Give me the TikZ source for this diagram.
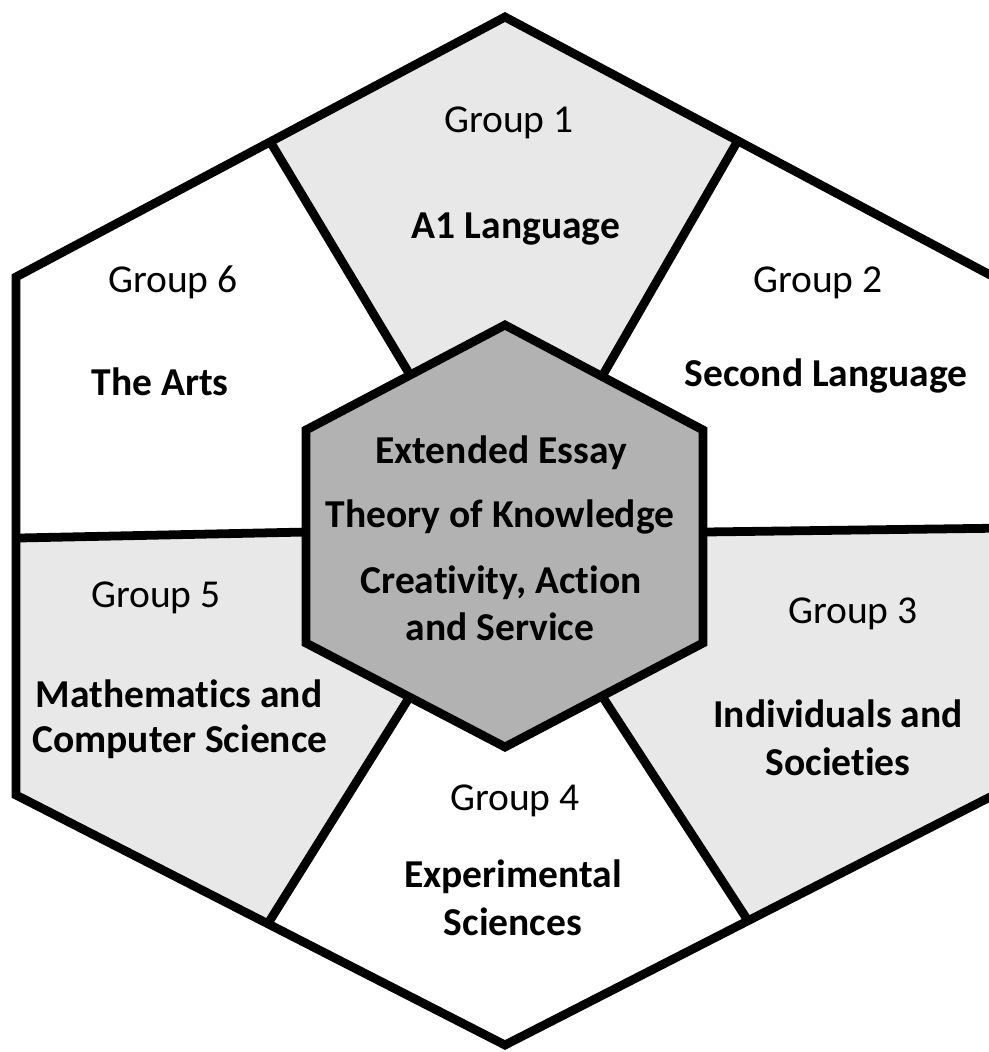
\documentclass[tikz,border=0pt]{standalone}
\usepackage{fontspec}
\setmainfont{Carlito}[Ligatures=NoCommon]
\usetikzlibrary{calc}
\definecolor{lightfill}{RGB}{232,232,232}
\definecolor{darkfill}{RGB}{178,178,178}
\begin{document}
\begin{tikzpicture}[x=0.02cm,y=-0.02cm,
  edge/.style={line width=5pt, line join=miter, line cap=butt},
  grp/.style={font=\fontsize{22.5}{27}\selectfont, anchor=base, inner sep=0pt},
  subj/.style={font=\fontsize{22.5}{27}\selectfont\bfseries, anchor=base, inner sep=0pt}]
\useasboundingbox (0,0) rectangle (989,1052);
\clip (0,0) rectangle (989,1052);
% outer hexagon
\coordinate (O1) at (505,17);
\coordinate (O2) at (994,277);
\coordinate (O3) at (994,795);
\coordinate (O4) at (505,1045);
\coordinate (O5) at (16,795);
\coordinate (O6) at (16,277);
% inner hexagon
\coordinate (I1) at (505,325);
\coordinate (I2) at (703,430);
\coordinate (I3) at (703,643);
\coordinate (I4) at (505,747);
\coordinate (I5) at (306,643);
\coordinate (I6) at (306,430);
% division points
\coordinate (A) at ($(O6)!0.52!(O1)$);
\coordinate (B) at ($(O1)!0.476!(O2)$);
\coordinate (P) at ($(I1)!0.477!(I6)$);
\coordinate (Q) at ($(I1)!0.49!(I2)$);
\coordinate (C) at ($(O6)!0.504!(O5)$);
\coordinate (D) at ($(I6)!0.479!(I5)$);
\coordinate (E) at ($(I2)!0.479!(I3)$);
\coordinate (F) at ($(O2)!0.485!(O3)$);
\coordinate (G) at ($(I5)!0.52!(I4)$);
\coordinate (H) at ($(O5)!0.515!(O4)$);
\coordinate (J) at ($(I3)!0.51!(I4)$);
\coordinate (K) at ($(O3)!0.503!(O4)$);
% light regions
\fill[lightfill] (A) -- (O1) -- (B) -- (Q) -- (I1) -- (P) -- cycle;
\fill[lightfill] (F) -- (O3) -- (K) -- (J) -- (I3) -- (E) -- cycle;
\fill[lightfill] (H) -- (O5) -- (C) -- (D) -- (I5) -- (G) -- cycle;
% outer outline
\draw[edge] (O1) -- (O2) -- (O3) -- (O4) -- (O5) -- (O6) -- cycle;
% dividers
\draw[edge] (A) -- (P);
\draw[edge] (B) -- (Q);
\draw[edge] (C) -- (D);
\draw[edge] (E) -- (F);
\draw[edge] (G) -- (H);
\draw[edge] (J) -- (K);
% inner hexagon
\draw[edge, fill=darkfill] (I1) -- (I2) -- (I3) -- (I4) -- (I5) -- (I6) -- cycle;
% texts
\node[grp] (g1) at (509,132) {Group 1};
\node[subj] (s1) at (516,238) {A1 Language};
\node[grp] (g6) at (173,292) {Group 6};
\node[grp] (g2) at (818,292) {Group 2};
\node[subj] (s6) at (160,395) {The Arts};
\node[subj] (s2) at (826,386) {Second Language};
\node[subj] (c1) at (501,463) {Extended Essay};
\node[subj] (c2) at (500,527) {Theory of Knowledge};
\node[subj] (c3) at (501,593) {Creativity, Action};
\node[subj] (c4) at (500,640) {and Service};
\node[grp] (g5) at (156,607) {Group 5};
\node[grp] (g3) at (853,623) {Group 3};
\node[subj] (s5a) at (179,707) {Mathematics and};
\node[subj] (s5b) at (180,752) {Computer Science};
\node[subj] (s3a) at (838,727) {Individuals and};
\node[subj] (s3b) at (838,775) {Societies};
\node[grp] (g4) at (515,810) {Group 4};
\node[subj] (s4a) at (513,887) {Experimental};
\node[subj] (s4b) at (513,935) {Sciences};
\end{tikzpicture}
\end{document}
